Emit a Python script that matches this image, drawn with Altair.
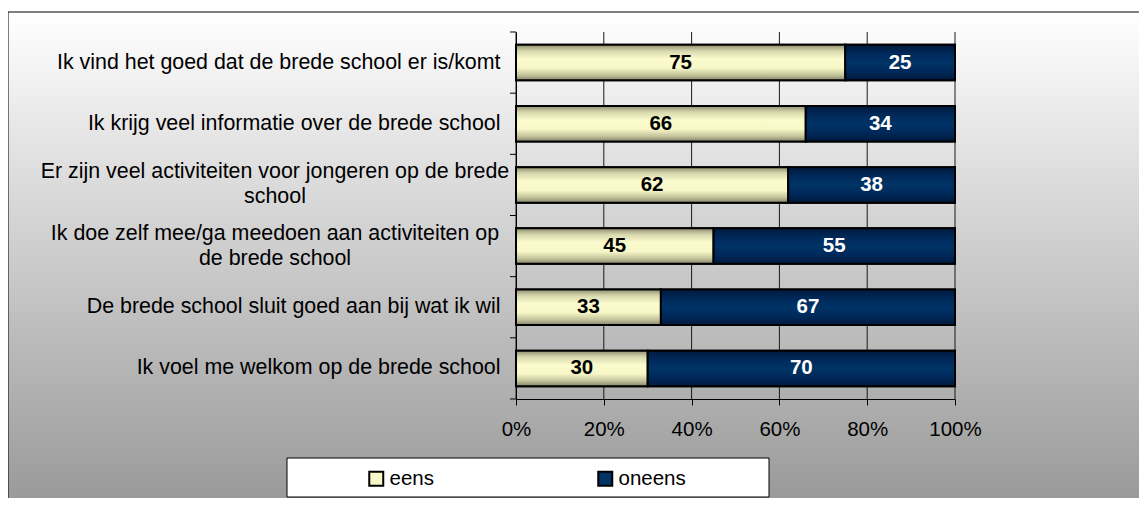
import altair as alt
import pandas as pd

categories = [
    "Ik vind het goed dat de brede school er is/komt",
    "Ik krijg veel informatie over de brede school",
    "Er zijn veel activiteiten voor jongeren op de brede\nschool",
    "Ik doe zelf mee/ga meedoen aan activiteiten op\nde brede school",
    "De brede school sluit goed aan bij wat ik wil",
    "Ik voel me welkom op de brede school",
]
eens = [75, 66, 62, 45, 33, 30]
oneens = [25, 34, 38, 55, 67, 70]
series = ["eens", "oneens"]
x_ticks = [0, 20, 40, 60, 80, 100]

FONT = "Liberation Sans"

wide = pd.DataFrame({"category": categories, "eens": eens, "oneens": oneens})
long_rows = []
for c, a, b in zip(categories, eens, oneens):
    long_rows.append({"category": c, "series": series[0], "value": a})
    long_rows.append({"category": c, "series": series[1], "value": b})
long = pd.DataFrame(long_rows)
ticks_df = pd.DataFrame({"t": x_ticks})
one = pd.DataFrame({"k": [0]})
last_cat = pd.DataFrame({"category": [categories[-1]]})

xscale = alt.Scale(domain=[0, 100], nice=False)
yscale = alt.Scale(domain=categories, paddingInner=0.42, paddingOuter=0.21)
GAP = 12.85  # half of the inner padding between bands

bg_grad = alt.LinearGradient(
    gradient="linear",
    stops=[alt.GradientStop(color="#ffffff", offset=0),
           alt.GradientStop(color="#979797", offset=1)],
    x1=0, x2=0, y1=0, y2=1,
)
eens_grad = alt.LinearGradient(
    gradient="linear",
    stops=[alt.GradientStop(color="#8e8e6e", offset=0),
           alt.GradientStop(color="#d9d9b0", offset=0.18),
           alt.GradientStop(color="#fbfbcd", offset=0.4),
           alt.GradientStop(color="#f7f7c8", offset=0.65),
           alt.GradientStop(color="#c4c49c", offset=0.85),
           alt.GradientStop(color="#84846a", offset=1)],
    x1=0, x2=0, y1=0, y2=1,
)
oneens_grad = alt.LinearGradient(
    gradient="linear",
    stops=[alt.GradientStop(color="#001a3d", offset=0),
           alt.GradientStop(color="#00295a", offset=0.25),
           alt.GradientStop(color="#003366", offset=0.5),
           alt.GradientStop(color="#00295a", offset=0.75),
           alt.GradientStop(color="#001a3d", offset=1)],
    x1=0, x2=0, y1=0, y2=1,
)

bg = alt.Chart(one).mark_rect(fill=bg_grad, stroke="black", strokeWidth=1).encode(
    x=alt.value(-508), x2=alt.value(640), y=alt.value(-20), y2=alt.value(480)
)

legend_box = alt.Chart(one).mark_rect(fill="white", stroke="black", strokeWidth=1).encode(
    x=alt.value(-229), x2=alt.value(253), y=alt.value(426), y2=alt.value(465)
)

grid = alt.Chart(ticks_df).mark_rule(color="#1a1a1a", strokeWidth=1).encode(
    x=alt.X("t:Q", scale=xscale)
)

# category separator ticks on the left of the y axis
ytick_top = alt.Chart(wide).mark_rule(color="black", strokeWidth=1, yOffset=-GAP).encode(
    y=alt.Y("category:N", scale=yscale, sort=categories, bandPosition=0),
    x=alt.value(-6), x2=alt.value(0),
)
ytick_bottom = alt.Chart(last_cat).mark_rule(color="black", strokeWidth=1, yOffset=GAP).encode(
    y=alt.Y("category:N", scale=yscale, sort=categories, bandPosition=1),
    x=alt.value(-6), x2=alt.value(0),
)

base_bars = alt.Chart(long).mark_bar(stroke="black", strokeWidth=2).encode(
    y=alt.Y("category:N", scale=yscale, sort=categories,
            axis=alt.Axis(title=None, ticks=False, domainColor="black", labelPadding=16,
                          labelFontSize=21.4, labelFont=FONT, labelColor="black", labelLimit=0,
                          labelExpr="indexof(datum.label, '\\n') >= 0 ? '' : datum.label",
                          grid=False, zindex=1)),
    x=alt.X("value:Q", stack="zero", scale=xscale,
            axis=alt.Axis(title=None, values=x_ticks, labelExpr="datum.value + '%'",
                          labelFlush=False, labelOverlap=False,
                          tickSize=6, tickColor="black", domainColor="black",
                          labelPadding=14, labelFontSize=20.5, labelFont=FONT,
                          labelColor="black", grid=False, zindex=1)),
    color=alt.Color("series:N", scale=alt.Scale(domain=series, range=["#f7f7c8", "#003366"]),
                    legend=alt.Legend(title=None, orient="none", legendX=-150, legendY=436,
                                      direction="horizontal", padding=0, columnPadding=160,
                                      symbolType="square", symbolSize=196,
                                      symbolStrokeColor="black", symbolStrokeWidth=2,
                                      labelFontSize=20.5, labelFont=FONT, labelColor="black",
                                      labelOffset=3)),
    order=alt.Order("series:N"),
)

eens_bars = alt.Chart(wide).mark_bar(fill=eens_grad, stroke="black", strokeWidth=2).encode(
    y=alt.Y("category:N", scale=yscale, sort=categories),
    x=alt.X("eens:Q", scale=xscale),
)

oneens_bars = alt.Chart(wide).transform_calculate(
    total="datum.eens + datum.oneens"
).mark_bar(fill=oneens_grad, stroke="black", strokeWidth=2).encode(
    y=alt.Y("category:N", scale=yscale, sort=categories),
    x=alt.X("eens:Q", scale=xscale),
    x2="total:Q",
)

eens_text = alt.Chart(wide).transform_calculate(
    mid="datum.eens / 2"
).mark_text(font=FONT, fontSize=20.5, fontWeight="bold", color="black",
            align="center", baseline="middle").encode(
    y=alt.Y("category:N", scale=yscale, sort=categories),
    x=alt.X("mid:Q", scale=xscale),
    text="eens:Q",
)

oneens_text = alt.Chart(wide).transform_calculate(
    mid="datum.eens + datum.oneens / 2"
).mark_text(font=FONT, fontSize=20.5, fontWeight="bold", color="white",
            align="center", baseline="middle").encode(
    y=alt.Y("category:N", scale=yscale, sort=categories),
    x=alt.X("mid:Q", scale=xscale),
    text="oneens:Q",
)

multi_labels = alt.Chart(wide).transform_filter(
    "indexof(datum.category, '\\n') >= 0"
).mark_text(font=FONT, fontSize=21.4, color="black", align="center", baseline="middle",
            lineBreak="\n", lineHeight=25, dy=-12.5).encode(
    y=alt.Y("category:N", scale=yscale, sort=categories),
    x=alt.value(-241),
    text="category:N",
)

chart = alt.layer(
    bg, legend_box, grid, ytick_top, ytick_bottom, base_bars, eens_bars, oneens_bars,
    eens_text, oneens_text, multi_labels
).properties(
    width=439, height=367,
    autosize=alt.AutoSizeParams(type="none"),
    padding={"left": 508, "top": 24, "right": 184, "bottom": 99},
).configure_view(strokeOpacity=0).configure(background="white")

chart.save("out.html", embed_options={"renderer": "svg", "actions": False})
